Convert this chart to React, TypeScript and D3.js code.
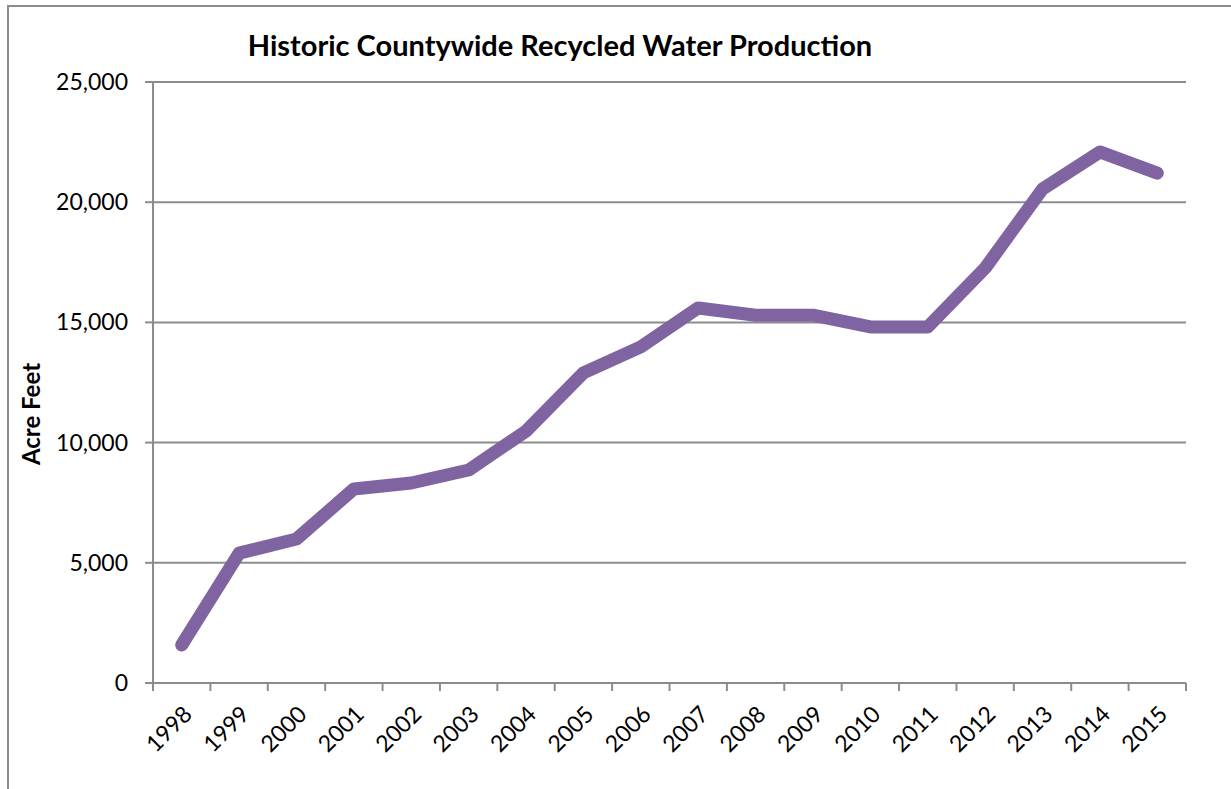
import React from "react";
import * as d3 from "d3";

const years = ["1998","1999","2000","2001","2002","2003","2004","2005","2006","2007","2008","2009","2010","2011","2012","2013","2014","2015"];
const acreFeet = [1580, 5400, 5990, 8070, 8320, 8860, 10480, 12900, 13980, 15600, 15300, 15300, 14810, 14810, 17260, 20550, 22090, 21210];
const yTicks = [0, 5000, 10000, 15000, 20000, 25000];
const title = "Historic Countywide Recycled Water Production";
const yTitle = "Acre Feet";

export default function App() {
  const W = 1231, H = 789;
  const left = 153, right = 1186, top = 82, bottom = 683;
  const x = d3.scaleBand<string>().domain(years).range([left, right]).padding(0);
  const y = d3.scaleLinear().domain([0, 25000]).range([bottom, top]);
  const line = d3.line<number>()
    .x((_, i) => (x(years[i]) as number) + x.bandwidth() / 2)
    .y((d) => y(d));
  const fmt = d3.format(",");
  const font = "Lato, 'Open Sans', sans-serif";
  const grid = "#8c8c8c";
  const boundaries = years.map((yr) => x(yr) as number).concat([right]);
  return (
    <svg width={W} height={H} style={{ position: "absolute", left: 0, top: 0 }} fontFamily={font}>
      <rect x={0} y={0} width={W} height={H} fill="#fff" />
      <rect x={8} y={6} width={W + 20} height={H + 20} fill="none" stroke={grid} strokeWidth={2} />
      <text x={560} y={56} textAnchor="middle" fontSize={29} fontWeight="bold" fill="#000">{title}</text>
      {yTicks.map((t) => (
        <g key={t}>
          {t > 0 && <line x1={left} x2={right} y1={y(t)} y2={y(t)} stroke={grid} strokeWidth={2} />}
          <line x1={left - 8} x2={left} y1={y(t)} y2={y(t)} stroke={grid} strokeWidth={2} />
          <text x={128} y={y(t)} dy="0.35em" textAnchor="end" fontSize={23} fill="#000">{fmt(t)}</text>
        </g>
      ))}
      <line x1={left} x2={left} y1={top} y2={bottom} stroke={grid} strokeWidth={2} />
      <line x1={left} x2={right} y1={bottom} y2={bottom} stroke={grid} strokeWidth={2} />
      {boundaries.map((bx, i) => (
        <line key={i} x1={bx} x2={bx} y1={bottom} y2={bottom + 8} stroke={grid} strokeWidth={2} />
      ))}
      {years.map((yr) => {
        const cx = (x(yr) as number) + x.bandwidth() / 2;
        return (
          <text key={yr} transform={`translate(${cx + 6},${bottom + 27}) rotate(-45)`} textAnchor="end" dy="0.35em" fontSize={23} fill="#000">{yr}</text>
        );
      })}
      <text transform={`translate(40,414) rotate(-90)`} textAnchor="middle" fontSize={24} fontWeight="bold" fill="#000">{yTitle}</text>
      <path d={line(acreFeet) || ""} fill="none" stroke="#8064A2" strokeWidth={13} strokeLinecap="round" strokeLinejoin="round" />
    </svg>
  );
}
